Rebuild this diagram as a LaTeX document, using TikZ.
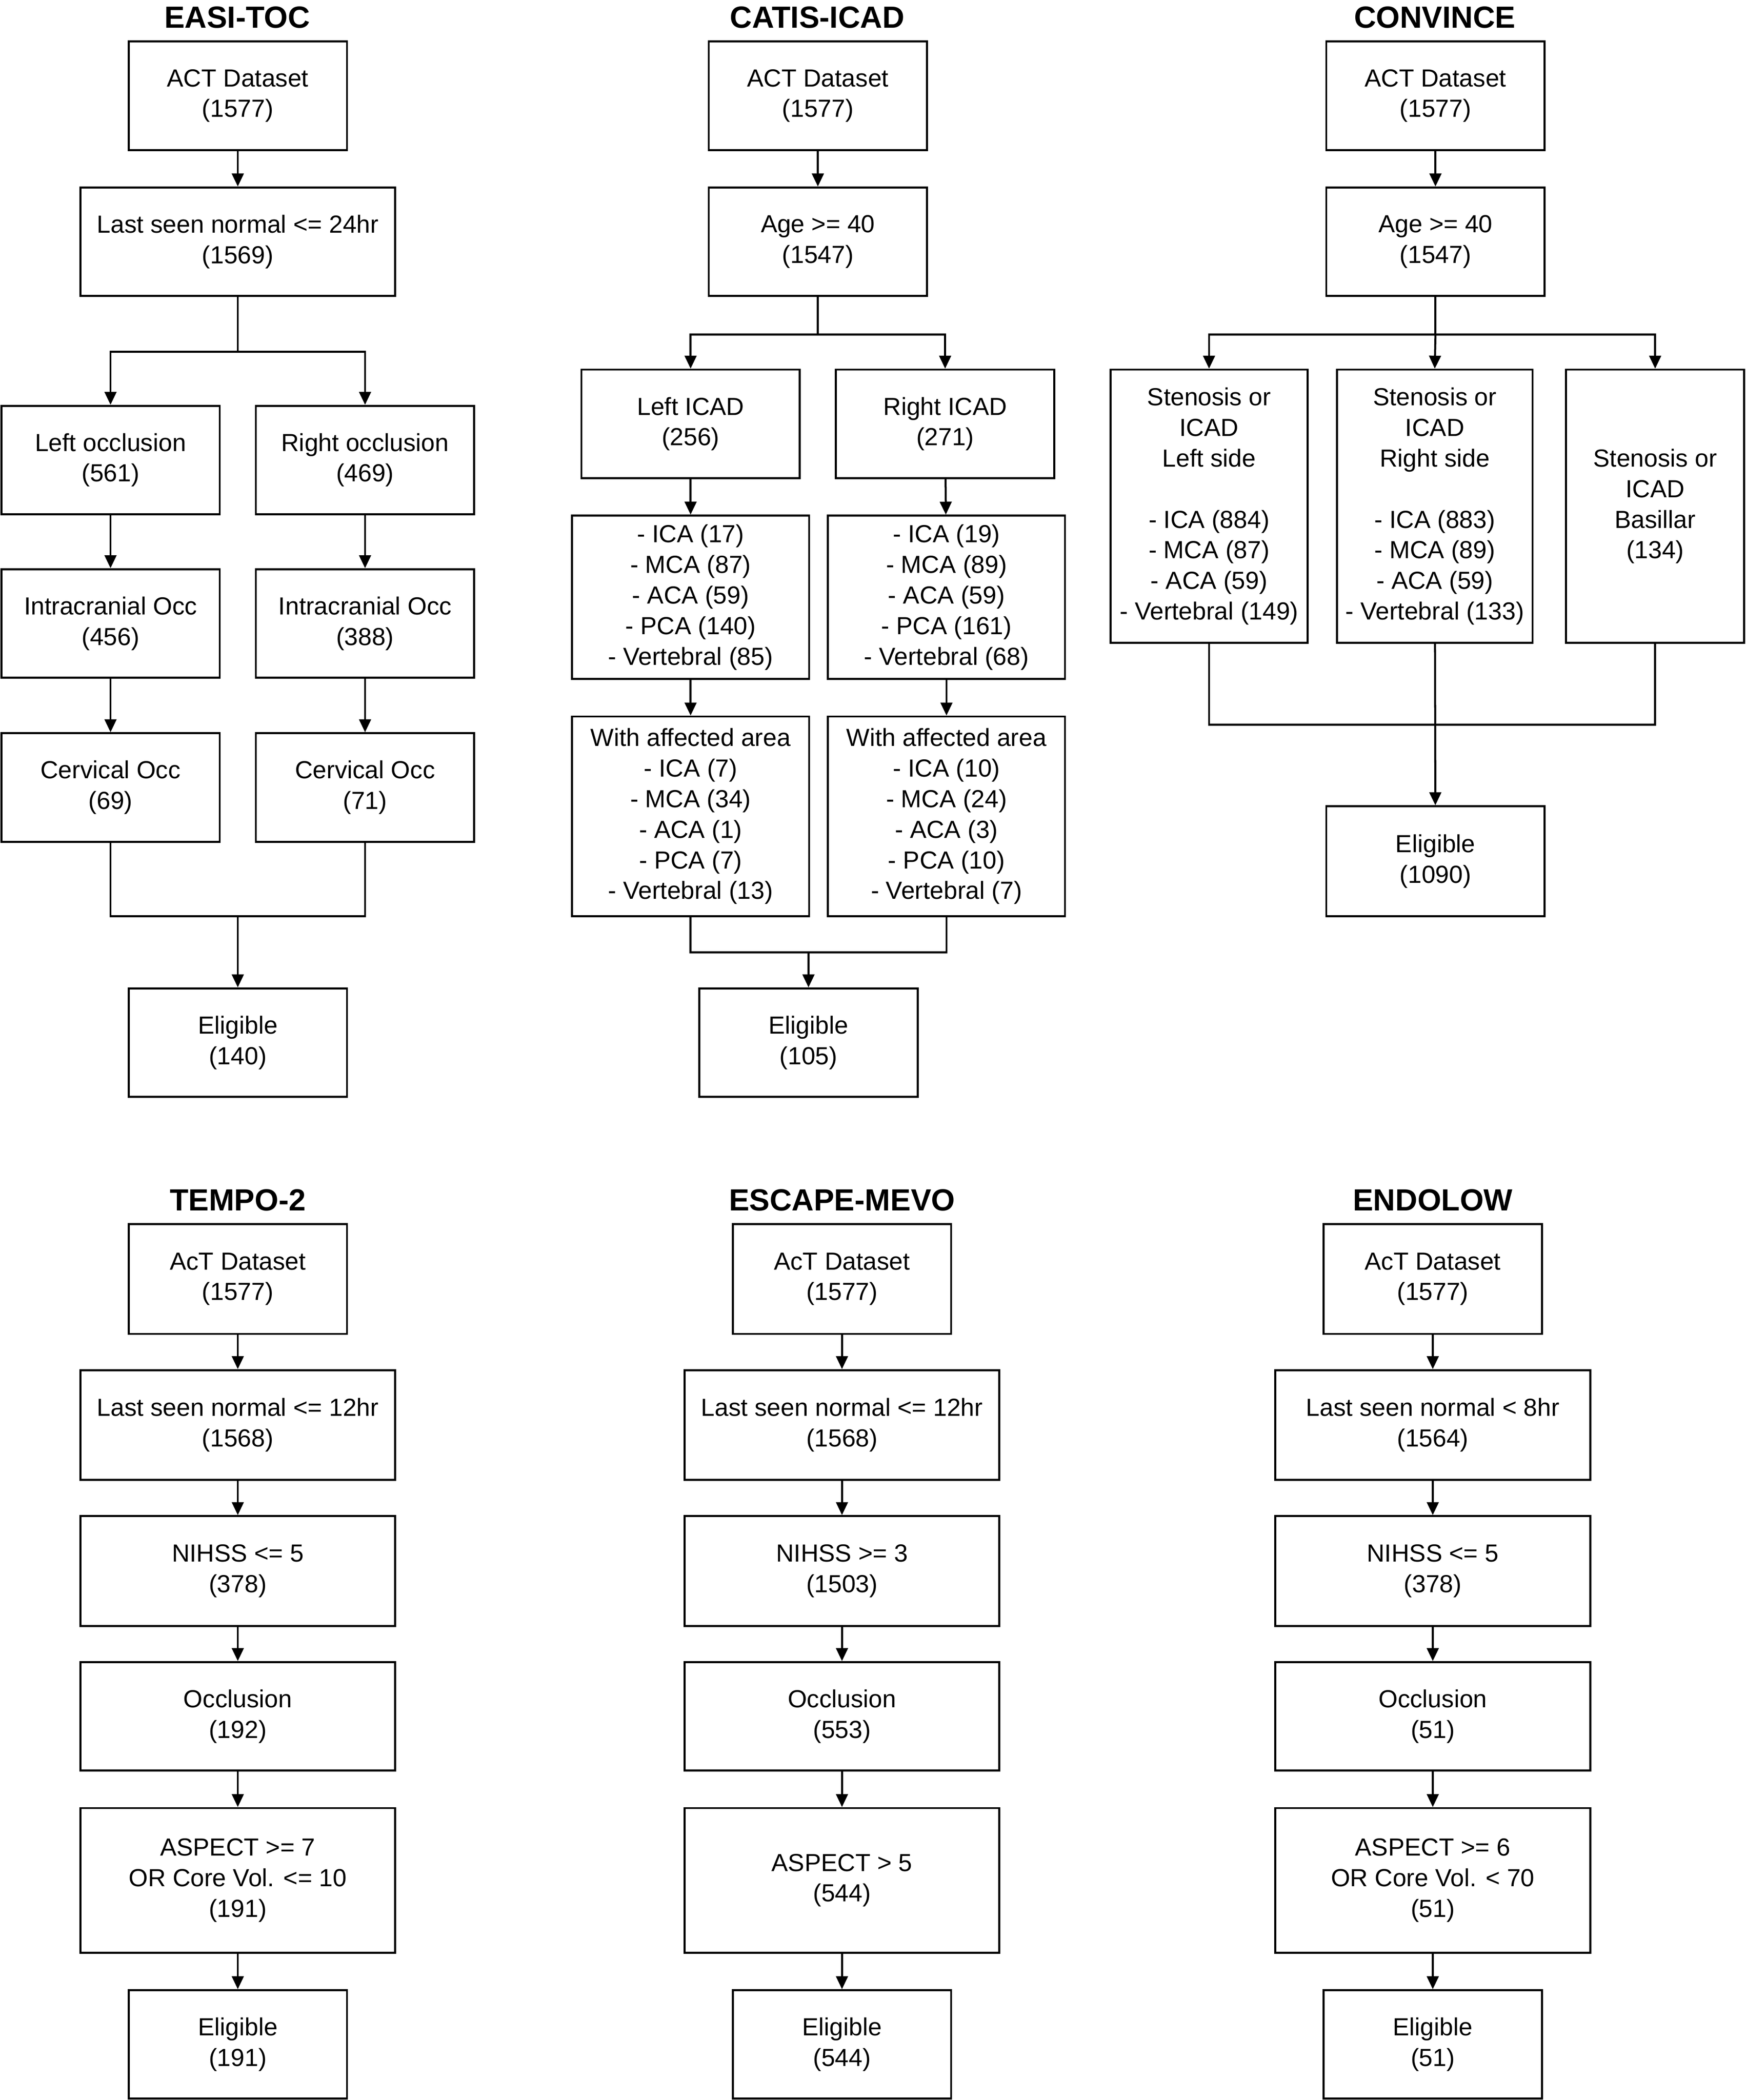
\documentclass[tikz,border=0pt]{standalone}
\usepackage{fontspec}
\setmainfont{Liberation Sans}
\usetikzlibrary{arrows.meta,positioning}
\tikzset{
  box/.style={draw,line width=0.85pt,align=center,inner sep=1pt,
    font=\fontsize{10.5}{13}\selectfont},
  ttl/.style={font=\fontsize{13}{15}\selectfont\bfseries},
  ln/.style={line width=0.85pt},
  arr/.style={ln,-{Triangle[length=5.5pt,width=5pt]}}
}
\newcommand{\bx}[6]{\node[box,minimum width=#3*0.02cm,minimum height=#4*0.02cm] (#1) at (#2) {#5};}
\begin{document}
\begin{tikzpicture}[x=0.02cm,y=-0.02cm]
\useasboundingbox (0,0) rectangle (1303,1568);
% EASI-TOC
\node[ttl] at (177,13) {EASI-TOC};
\bx{ea1}{177.5,71.5}{163}{81}{ACT Dataset\\(1577)}{}
\bx{ea2}{177.5,180.5}{235}{81}{Last seen normal <= 24hr\\(1569)}{}
\bx{ea3}{82.5,343.5}{163}{81}{Left occlusion\\(561)}{}
\bx{ea4}{272.5,343.5}{163}{81}{Right occlusion\\(469)}{}
\bx{ea5}{82.5,465.5}{163}{81}{Intracranial Occ\\(456)}{}
\bx{ea6}{272.5,465.5}{163}{81}{Intracranial Occ\\(388)}{}
\bx{ea7}{82.5,588}{163}{81}{Cervical Occ\\(69)}{}
\bx{ea8}{272.5,588}{163}{81}{Cervical Occ\\(71)}{}
\bx{ea9}{177.5,778.5}{163}{81}{Eligible\\(140)}{}
\draw[arr] (ea1) -- (ea2);
\draw[ln] (ea2.south) -- ++(0,41) coordinate (easp);
\draw[arr] (easp) -| (ea3.north);
\draw[arr] (easp) -| (ea4.north);
\draw[arr] (ea3) -- (ea5);
\draw[arr] (ea4) -- (ea6);
\draw[arr] (ea5) -- (ea7);
\draw[arr] (ea6) -- (ea8);
\draw[ln] (ea7.south) |- (177.5,684) coordinate (eamg) -| (ea8.south);
\draw[arr] (eamg) -- (ea9);
% CATIS-ICAD
\node[ttl] at (610,13) {CATIS-ICAD};
\bx{ca1}{610.5,71.5}{163}{81}{ACT Dataset\\(1577)}{}
\bx{ca2}{610.5,180.5}{163}{81}{Age >= 40\\(1547)}{}
\bx{ca3}{515.5,316.5}{163}{81}{Left ICAD\\(256)}{}
\bx{ca4}{705.5,316.5}{163}{81}{Right ICAD\\(271)}{}
\bx{ca5}{515.5,446}{177}{122}{- ICA (17)\\- MCA (87)\\- ACA (59)\\- PCA (140)\\- Vertebral (85)}{}
\bx{ca6}{706.5,446}{177}{122}{- ICA (19)\\- MCA (89)\\- ACA (59)\\- PCA (161)\\- Vertebral (68)}{}
\bx{ca7}{515.5,609.5}{177}{149}{With affected area\\- ICA (7)\\- MCA (34)\\- ACA (1)\\- PCA (7)\\- Vertebral (13)}{}
\bx{ca8}{706.5,609.5}{177}{149}{With affected area\\- ICA (10)\\- MCA (24)\\- ACA (3)\\- PCA (10)\\- Vertebral (7)}{}
\bx{ca9}{603.5,778.5}{163}{81}{Eligible\\(105)}{}
\draw[arr] (ca1) -- (ca2);
\draw[ln] (ca2.south) -- ++(0,28) coordinate (casp);
\draw[arr] (casp) -| (ca3.north);
\draw[arr] (casp) -| (ca4.north);
\draw[arr] (ca3) -- (ca5);
\draw[arr] (ca4) -- (ca6);
\draw[arr] (ca5) -- (ca7);
\draw[arr] (ca6) -- (ca8);
\draw[ln] (ca7.south) |- (603.5,711) coordinate (camg) -| (ca8.south);
\draw[arr] (camg) -- (ca9);
% CONVINCE
\node[ttl] at (1071,13) {CONVINCE};
\bx{co1}{1071.5,71.5}{163}{81}{ACT Dataset\\(1577)}{}
\bx{co2}{1071.5,180.5}{163}{81}{Age >= 40\\(1547)}{}
\bx{co3}{902.5,378}{147}{204}{Stenosis or\\ICAD\\Left side\\[13pt]- ICA (884)\\- MCA (87)\\- ACA (59)\\- Vertebral (149)}{}
\bx{co4}{1071,378}{146}{204}{Stenosis or\\ICAD\\Right side\\[13pt]- ICA (883)\\- MCA (89)\\- ACA (59)\\- Vertebral (133)}{}
\bx{co5}{1235.5,378}{133}{204}{Stenosis or\\ICAD\\Basillar\\(134)}{}
\bx{co6}{1071.5,643}{163}{82}{Eligible\\(1090)}{}
\draw[arr] (co1) -- (co2);
\draw[ln] (co2.south) -- ++(0,28) coordinate (cosp);
\draw[arr] (cosp) -| (co3.north);
\draw[arr] (cosp) -- (co4.north);
\draw[arr] (cosp) -| (co5.north);
\draw[ln] (co3.south) |- (co5.south |- 0,541) -- (co5.south);
\draw[arr] (co4) -- (co6);
% bottom row
\foreach \nm/\cx/\tt/\lsn/\nih/\occ/\asp/\el in {
  te/177.5/TEMPO-2/{Last seen normal <= 12hr\\(1568)}/{NIHSS <= 5\\(378)}/{Occlusion\\(192)}/{ASPECT >= 7\\OR Core Vol. <= 10\\(191)}/{Eligible\\(191)},
  es/628.5/ESCAPE-MEVO/{Last seen normal <= 12hr\\(1568)}/{NIHSS >= 3\\(1503)}/{Occlusion\\(553)}/{ASPECT > 5\\(544)}/{Eligible\\(544)},
  en/1069.5/ENDOLOW/{Last seen normal < 8hr\\(1564)}/{NIHSS <= 5\\(378)}/{Occlusion\\(51)}/{ASPECT >= 6\\OR Core Vol. < 70\\(51)}/{Eligible\\(51)}}{
  \node[ttl] at (\cx,896) {\tt};
  \bx{\nm1}{\cx,955}{163}{82}{AcT Dataset\\(1577)}{}
  \bx{\nm2}{\cx,1064}{235}{82}{\lsn}{}
  \bx{\nm3}{\cx,1173}{235}{82}{\nih}{}
  \bx{\nm4}{\cx,1281.5}{235}{81}{\occ}{}
  \bx{\nm5}{\cx,1404}{235}{108}{\asp}{}
  \bx{\nm6}{\cx,1526.5}{163}{81}{\el}{}
  \draw[arr] (\nm1) -- (\nm2);
  \draw[arr] (\nm2) -- (\nm3);
  \draw[arr] (\nm3) -- (\nm4);
  \draw[arr] (\nm4) -- (\nm5);
  \draw[arr] (\nm5) -- (\nm6);
}
\end{tikzpicture}
\end{document}
